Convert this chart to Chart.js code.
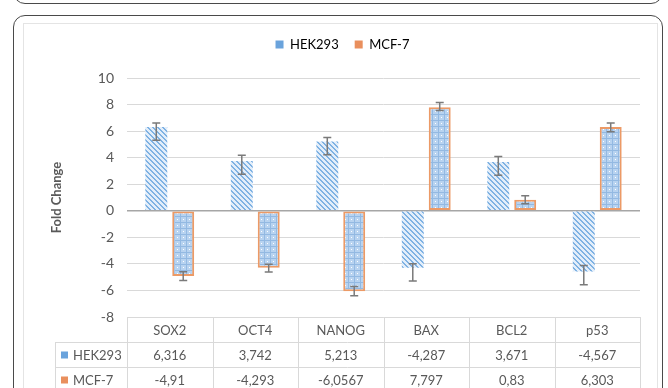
<!DOCTYPE html>
<html>
<head>
<meta charset="utf-8">
<script src="https://cdn.jsdelivr.net/npm/chart.js@4.4.0/dist/chart.umd.min.js"></script>
<style>
  html, body { margin: 0; padding: 0; background: #fff; }
  body { width: 668px; height: 388px; position: relative; overflow: hidden; }
  .box-prev { position: absolute; left: 13px; top: -40px; width: 648px; height: 42px; border: 1.5px solid #4a4a4a; border-radius: 12px; }
  .box { position: absolute; left: 13px; top: 15px; width: 648px; height: 420px; border: 1.5px solid #4a4a4a; border-radius: 12px; }
  .frame { position: absolute; left: 23px; top: 23px; width: 633px; height: 400px; border: 1px solid #e4e4e4; }
  #wrap { position: absolute; left: 0; top: 0; width: 668px; height: 388px; }
</style>
</head>
<body>
<div class="box-prev"></div>
<div class="box"></div>
<div class="frame"></div>
<div id="wrap"><canvas id="foldChart" width="668" height="388"></canvas></div>
<script>
  const categories = ["SOX2", "OCT4", "NANOG", "BAX", "BCL2", "p53"];
  const hekValues = [6.316, 3.742, 5.213, -4.287, 3.671, -4.567];
  const mcfValues = [-4.91, -4.293, -6.0567, 7.797, 0.83, 6.303];
  // error bars (custom plus / minus)
  const hekErrUp = [0.3, 0.44, 0.3, 0.3, 0.41, 0.45];
  const hekErrDown = [1.0, 1.0, 1.0, 1.0, 1.0, 1.0];
  const mcfErrUp = [0.31, 0.26, 0.36, 0.36, 0.31, 0.3];
  const mcfErrDown = [0.34, 0.31, 0.34, 0.25, 0.3, 0.35];
  const yMin = -8;
  const yMax = 10;
  const yStep = 2;

  const textColor = "#595959";
  const fontFamily = "Lato, 'Liberation Sans', sans-serif";
  const swatchColors = ["#6aa3dc", "#e98f5d"];

  // Excel-like pattern fills
  function makeStripePattern() {
    const c = document.createElement("canvas");
    c.width = 5;
    c.height = 5;
    const g = c.getContext("2d");
    for (let y = 0; y < 5; y++) {
      for (let x = 0; x < 5; x++) {
        g.fillStyle = (x - y + 10) % 5 < 2 ? "#7fb2e3" : "#e3eefa";
        g.fillRect(x, y, 1, 1);
      }
    }
    return g.createPattern(c, "repeat");
  }

  function makeDotPattern() {
    const c = document.createElement("canvas");
    c.width = 6;
    c.height = 6;
    const g = c.getContext("2d");
    g.fillStyle = "#b8d3f0";
    g.fillRect(0, 0, 6, 6);
    g.fillStyle = "#93b9e2";
    g.fillRect(0, 0, 6, 1);
    g.fillRect(0, 0, 1, 6);
    g.fillStyle = "#ffffff";
    g.fillRect(3, 3, 1, 1);
    return g.createPattern(c, "repeat");
  }

  const formatValue = (v) => String(v).replace(".", ",");

  // push the plot area down below the legend
  const legendSpacer = {
    id: "legendSpacer",
    beforeInit(chart) {
      const fit = chart.legend.fit;
      chart.legend.fit = function () {
        fit.bind(chart.legend)();
        this.height += 17;
      };
    },
  };

  const errorBars = {
    id: "errorBars",
    afterDatasetsDraw(chart) {
      const { ctx, scales: { y } } = chart;
      ctx.save();
      ctx.strokeStyle = "#7a7a7a";
      ctx.lineWidth = 1.5;
      chart.data.datasets.forEach((ds, di) => {
        const meta = chart.getDatasetMeta(di);
        meta.data.forEach((bar, i) => {
          const v = ds.data[i];
          const yHi = y.getPixelForValue(v + ds.errUp[i]);
          const yLo = y.getPixelForValue(v - ds.errDown[i]);
          const cap = 4;
          ctx.beginPath();
          ctx.moveTo(bar.x, yHi);
          ctx.lineTo(bar.x, yLo);
          ctx.moveTo(bar.x - cap, yHi);
          ctx.lineTo(bar.x + cap, yHi);
          ctx.moveTo(bar.x - cap, yLo);
          ctx.lineTo(bar.x + cap, yLo);
          ctx.stroke();
        });
      });
      ctx.restore();
    },
  };

  // data table under the plot, columns taken from the x scale
  const dataTable = {
    id: "dataTable",
    afterDraw(chart) {
      const { ctx, chartArea, scales: { x } } = chart;
      const top = chartArea.bottom;
      const rowH = 25;
      const colW = (chartArea.right - chartArea.left) / categories.length;
      const labelLeft = 55;
      const rows = chart.data.datasets;
      const bottom = top + rowH * (rows.length + 1);

      ctx.save();
      ctx.strokeStyle = "#d9d9d9";
      ctx.lineWidth = 1;
      ctx.beginPath();
      ctx.moveTo(chartArea.left, top + 0.5);
      ctx.lineTo(chartArea.right, top + 0.5);
      for (let r = 1; r <= rows.length; r++) {
        const yy = Math.round(top + r * rowH) + 0.5;
        ctx.moveTo(labelLeft, yy);
        ctx.lineTo(chartArea.right, yy);
      }
      categories.forEach((c, i) => {
        const xx = Math.round(x.getPixelForValue(i) - colW / 2) + 0.5;
        ctx.moveTo(xx, top);
        ctx.lineTo(xx, bottom);
      });
      const xr = Math.round(chartArea.right) + 0.5;
      ctx.moveTo(xr, top);
      ctx.lineTo(xr, bottom);
      ctx.moveTo(labelLeft + 0.5, top + rowH);
      ctx.lineTo(labelLeft + 0.5, bottom);
      ctx.stroke();

      ctx.fillStyle = textColor;
      ctx.font = "13px " + fontFamily;
      ctx.textAlign = "center";
      ctx.textBaseline = "middle";
      categories.forEach((c, i) => {
        ctx.fillText(c, x.getPixelForValue(i), top + rowH / 2 + 1);
      });
      rows.forEach((ds, r) => {
        const cy = top + rowH * (r + 1) + rowH / 2 + 1;
        ds.data.forEach((v, i) => {
          ctx.fillText(formatValue(v), x.getPixelForValue(i), cy);
        });
        ctx.fillStyle = swatchColors[r];
        ctx.fillRect(labelLeft + 6, cy - 4, 7, 7);
        ctx.fillStyle = textColor;
        ctx.textAlign = "left";
        ctx.fillText(ds.label, labelLeft + 18, cy);
        ctx.textAlign = "center";
      });
      ctx.restore();
    },
  };

  const ctx = document.getElementById("foldChart").getContext("2d");

  new Chart(ctx, {
    type: "bar",
    data: {
      labels: categories,
      datasets: [
        {
          label: "HEK293",
          data: hekValues,
          errUp: hekErrUp,
          errDown: hekErrDown,
          backgroundColor: makeStripePattern(),
          borderWidth: 0,
        },
        {
          label: "MCF-7",
          data: mcfValues,
          errUp: mcfErrUp,
          errDown: mcfErrDown,
          backgroundColor: makeDotPattern(),
          borderColor: "#ec9a66",
          borderWidth: 2,
          borderSkipped: false,
        },
      ],
    },
    options: {
      responsive: false,
      animation: false,
      devicePixelRatio: 1,
      categoryPercentage: 0.63,
      barPercentage: 0.815,
      layout: { padding: { left: 45, right: 28, top: 22, bottom: 71 } },
      plugins: {
        tooltip: { enabled: false },
        legend: {
          position: "top",
          labels: {
            boxWidth: 8,
            boxHeight: 8,
            padding: 16,
            color: textColor,
            font: { family: fontFamily, size: 13 },
            generateLabels: (chart) =>
              chart.data.datasets.map((ds, i) => ({
                text: ds.label,
                fillStyle: swatchColors[i],
                strokeStyle: swatchColors[i],
                lineWidth: 0,
                hidden: false,
                datasetIndex: i,
              })),
          },
        },
      },
      scales: {
        x: { display: false },
        y: {
          min: yMin,
          max: yMax,
          afterFit: (scale) => {
            scale.width = 82;
          },
          ticks: {
            stepSize: yStep,
            padding: 13,
            color: textColor,
            font: { family: fontFamily, size: 14 },
          },
          border: { display: false },
          grid: {
            drawTicks: false,
            color: (c) => (c.tick && c.tick.value === 0 ? "#a6a6a6" : "#d9d9d9"),
            lineWidth: (c) => (c.tick && c.tick.value === 0 ? 1.5 : 1),
          },
          title: {
            display: true,
            text: "Fold Change",
            color: textColor,
            font: { family: fontFamily, size: 13, weight: "bold" },
            padding: { top: 4, bottom: 0 },
          },
        },
      },
    },
    plugins: [legendSpacer, errorBars, dataTable],
  });
</script>
</body>
</html>
